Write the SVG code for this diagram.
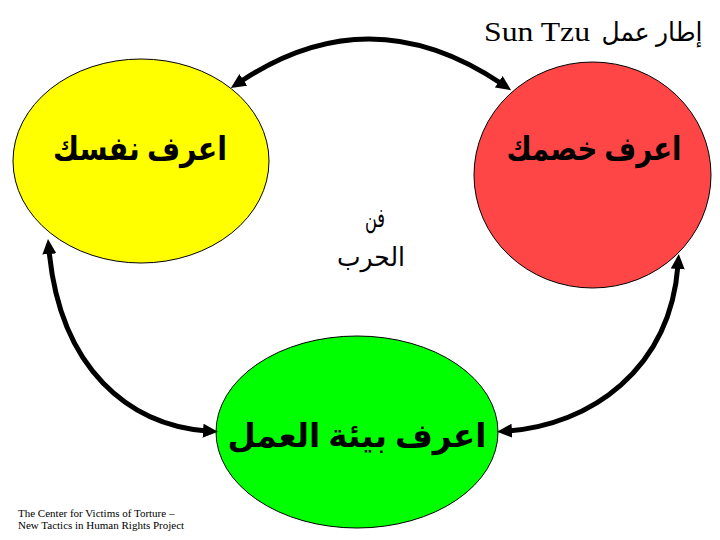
<svg xmlns="http://www.w3.org/2000/svg" width="720" height="540" viewBox="0 0 720 540">
<style>
.node{stroke:#000;stroke-width:1}
.big{font-family:"Liberation Serif","DejaVu Sans",sans-serif;font-weight:bold;font-size:33px;fill:#000;text-anchor:middle}
.ar{font-family:"Liberation Serif","DejaVu Sans",sans-serif;font-size:26px;fill:#000;text-anchor:middle}
.lat{font-family:"Liberation Serif",serif;fill:#000}
.conn{fill:none;stroke:#000;stroke-width:5}
</style>
<defs>
<marker id="ah" markerUnits="userSpaceOnUse" markerWidth="16" markerHeight="14" refX="4" refY="7" orient="auto-start-reverse">
<path d="M0,0 L15,7 L0,14 z" fill="#000"/>
</marker>
</defs>
<rect width="720" height="540" fill="#fff"/>
<g id="title">
<text class="lat" x="484" y="41" font-size="28" textLength="106" lengthAdjust="spacingAndGlyphs">Sun Tzu</text>
<text class="ar" x="652" y="41" style="font-size:26px" textLength="101" lengthAdjust="spacingAndGlyphs">إطار عمل</text>
</g>
<g id="know-self">
<ellipse class="node" cx="141" cy="161" rx="128" ry="102" fill="#FFFF00"/>
<text class="big" x="140" y="160" textLength="174" lengthAdjust="spacingAndGlyphs">اعرف نفسك</text>
</g>
<g id="know-enemy">
<ellipse class="node" cx="592.5" cy="175" rx="118.5" ry="113" fill="#FF4646"/>
<text class="big" x="594" y="160" textLength="175" lengthAdjust="spacingAndGlyphs">اعرف خصمك</text>
</g>
<g id="know-environment">
<ellipse class="node" cx="357" cy="432" rx="141" ry="96" fill="#00FF00"/>
<text class="big" x="357" y="447" textLength="259" lengthAdjust="spacingAndGlyphs">اعرف بيئة العمل</text>
</g>
<g id="art-of-war">
<text class="ar" x="375" y="227" textLength="20" lengthAdjust="spacingAndGlyphs">فن</text>
<text class="ar" x="371" y="266" textLength="68" lengthAdjust="spacingAndGlyphs">الحرب</text>
</g>
<g id="connectors">
<path class="conn" d="M240,82 Q370,-5 502,84" marker-start="url(#ah)" marker-end="url(#ah)"/>
<path class="conn" d="M49,250 C60,370 130,425 207,431" marker-start="url(#ah)" marker-end="url(#ah)"/>
<path class="conn" d="M678,265 C670,370 590,425 508,431" marker-start="url(#ah)" marker-end="url(#ah)"/>
</g>
<g id="footer">
<text class="lat" x="18" y="517" font-size="11">The Center for Victims of Torture –</text>
<text class="lat" x="18" y="529" font-size="11">New Tactics in Human Rights Project</text>
</g>
</svg>
